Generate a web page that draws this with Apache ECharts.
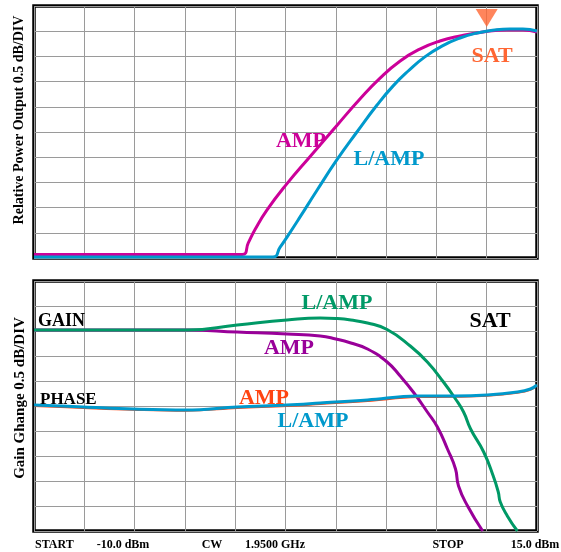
<!DOCTYPE html>
<html><head><meta charset="utf-8">
<script src="https://cdn.jsdelivr.net/npm/echarts@6/dist/echarts.min.js"></script>
<style>html,body{margin:0;padding:0;background:#fff}#c{width:561px;height:552px}</style>
</head><body><div id="c"></div>
<script>
// ---- Data (x and y in grid divisions, 0..10) ----
// Top panel: relative power output
const powerAmp = [[0,0.14],[4.14,0.14],[4.26,0.6],[4.4,1.15],[4.63,1.9],[5.03,2.95],[5.49,4.03],[6.03,5.28],[6.48,6.31],[6.88,7.14],[7.28,7.82],[7.67,8.29],[8.07,8.61],[8.47,8.81],[8.93,8.97],[9.4,9.05],[9.72,9.05],[10,8.97]];
const powerLAmp = [[0,0.04],[4.75,0.04],[4.89,0.42],[5.03,0.83],[5.29,1.63],[5.63,2.7],[6.02,3.89],[6.42,5.0],[6.82,6.07],[7.14,6.83],[7.44,7.42],[7.77,7.98],[8.11,8.41],[8.47,8.73],[8.81,8.93],[9.16,9.05],[9.46,9.09],[9.72,9.09],[10,9.01]];
const satMarker = [[9.0,9.52]];
// Bottom panel: gain change and phase
const gainAmp = [[0,8.04],[3.04,8.04],[4.04,7.96],[5.03,7.88],[5.69,7.8],[6.0,7.68],[6.3,7.52],[6.63,7.28],[7.02,6.76],[7.28,6.2],[7.54,5.56],[7.82,4.76],[8.02,4.16],[8.22,3.28],[8.38,2.48],[8.44,1.8],[8.62,1.0],[8.92,0]];
const gainLAmp = [[0,8.04],[3.04,8.04],[4.04,8.24],[5.03,8.44],[5.69,8.52],[6.0,8.5],[6.3,8.44],[6.63,8.32],[7.02,8.06],[7.48,7.4],[7.82,6.76],[8.14,5.96],[8.38,5.28],[8.54,4.76],[8.68,4.08],[8.94,3.16],[9.13,2.2],[9.23,1.56],[9.27,1.16],[9.41,0.6],[9.61,0]];
const phaseAmp = [[0,5.0],[0.98,4.92],[1.97,4.85],[3.02,4.81],[4.04,4.92],[5.03,5.0],[5.69,5.08],[6.63,5.2],[7.62,5.36],[8.34,5.37],[9.01,5.41],[9.61,5.53],[9.87,5.65],[10,5.82]];
const phaseLAmp = [[0,5.04],[0.98,4.96],[1.97,4.88],[3.02,4.84],[4.04,4.96],[5.03,5.04],[5.69,5.12],[6.63,5.24],[7.62,5.4],[8.34,5.4],[9.01,5.44],[9.61,5.56],[9.87,5.68],[10,5.84]];
// Text
const topAxisName = "Relative Power Output 0.5 dB/DIV";
const bottomAxisName = "Gain Ghange 0.5 dB/DIV";
const bottomLabels = ["START","-10.0 dBm","CW","1.9500 GHz","STOP","15.0 dBm"];
const topTexts = ["AMP","L/AMP","SAT"];
const bottomTexts = ["GAIN","L/AMP","AMP","SAT","PHASE","AMP","L/AMP"];

const F = '"Liberation Serif","Times New Roman",serif';
const chart = echarts.init(document.getElementById('c'), null, {renderer:'canvas'});

function xAx(i){return {type:'value',gridIndex:i,min:0,max:10,interval:1,axisLine:{show:false},axisTick:{show:false},axisLabel:{show:false},splitLine:{show:true,lineStyle:{color:'#9a9a9a',width:1}}};}
function yAx(i){return {type:'value',gridIndex:i,min:0,max:10,interval:1,axisLine:{show:false},axisTick:{show:false},axisLabel:{show:false},splitLine:{show:true,lineStyle:{color:'#9a9a9a',width:1}}};}
function ln(data,color,gi,w,z,sm){return {type:'line',xAxisIndex:gi,yAxisIndex:gi,data:data,showSymbol:false,smooth:sm,lineStyle:{color:color,width:w},z:z,silent:true};}
function txt(s,x,y,color,size,align){return {type:'text',x:x,y:y,style:{text:s,fill:color,font:'bold '+size+'px '+F,textAlign:align||'center',textVerticalAlign:'middle'},z:100};}

const labelX = [35,123,212,275,448,535];
const labelAlign = ['left','center','center','center','center','center'];
const graphic = [
  {type:'text',x:19,y:120,rotation:Math.PI/2,style:{text:topAxisName,fill:'#000',font:'bold 14px '+F,textAlign:'center',textVerticalAlign:'middle'}},
  {type:'text',x:20,y:398,rotation:Math.PI/2,style:{text:bottomAxisName,fill:'#000',font:'bold 15px '+F,textAlign:'center',textVerticalAlign:'middle'}},
  txt(topTexts[0],301,141,'#CC0099',22),
  txt(topTexts[1],389,159,'#0099CC',22),
  txt(topTexts[2],492,56,'#FF6633',22),
  txt(bottomTexts[0],38,321,'#000',18,'left'),
  txt(bottomTexts[1],337,303,'#009966',22),
  txt(bottomTexts[2],289,348,'#990099',22),
  txt(bottomTexts[3],490,321,'#000',22),
  txt(bottomTexts[4],40,400,'#000',17,'left'),
  txt(bottomTexts[5],264,398,'#FF4411',22),
  txt(bottomTexts[6],313,421,'#0099CC',22)
];
bottomLabels.forEach((s,i)=>graphic.push(txt(s,labelX[i],545,'#000',12,labelAlign[i])));

chart.setOption({
  animation:false,
  backgroundColor:'#fff',
  grid:[
    {left:34,right:24,top:6,height:252,show:true,borderColor:'#000',borderWidth:3.5,backgroundColor:'#fff'},
    {left:34,right:24,top:281,height:250,show:true,borderColor:'#000',borderWidth:3.5,backgroundColor:'#fff'}
  ],
  xAxis:[xAx(0),xAx(1)],
  yAxis:[yAx(0),yAx(1)],
  series:[
    ln(powerAmp,'#CC0099',0,3,3,0.5),
    ln(powerLAmp,'#0099CC',0,3,4,0.5),
    {type:'scatter',xAxisIndex:0,yAxisIndex:0,data:satMarker,symbol:'triangle',symbolRotate:180,symbolSize:[22,18],itemStyle:{color:'#FF6633'},z:5,silent:true},
    ln(gainAmp,'#990099',1,3,3,0.5),
    ln(gainLAmp,'#009966',1,3,4,0.5),
    ln(phaseAmp,'#FF4411',1,2,3,0.4),
    ln(phaseLAmp,'#0099CC',1,3,4,0.4)
  ],
  graphic:graphic
});
</script></body></html>
